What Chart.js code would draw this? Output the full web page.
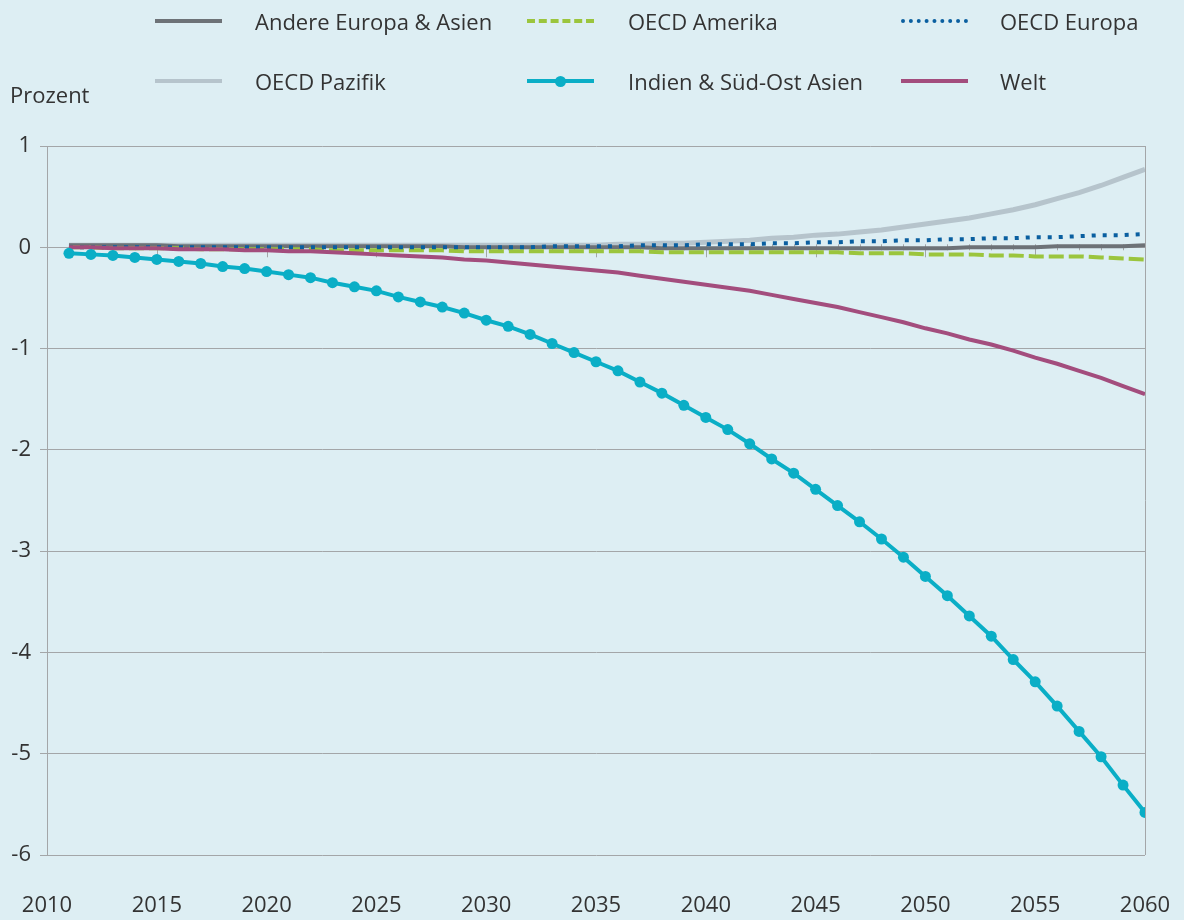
<!DOCTYPE html>
<html lang="de">
<head>
    <meta charset="UTF-8">
    <title>Prozent</title>
    <script src="https://cdn.jsdelivr.net/npm/chart.js"></script>
    <style>
        html, body { margin: 0; padding: 0; background: #ddeef3; }
        body { width: 1184px; height: 920px; position: relative; overflow: hidden;
               font-family: "Open Sans", "Noto Sans", sans-serif; color: #333; }
        #wrap { position: absolute; left: 0; top: 0; width: 1184px; height: 920px; }
        .lg { position: absolute; font-size: 22px; line-height: 24px; }
        .lg .mk { position: absolute; width: 67px; top: 10px; }
        .lg .tx { position: absolute; white-space: nowrap; }
        .dot { position: absolute; left: 28px; top: -7.5px; width: 11px; height: 11px; border-radius: 50%; background: #0aaec6; }
        #unit { position: absolute; left: 10px; top: 79px; font-size: 22px; }
    </style>
</head>
<body>
    <div id="wrap"><canvas id="chart" width="1184" height="920"></canvas></div>

    <!-- legend, 3 columns x 2 rows -->
    <div class="lg" style="left:155px; top:9px;">
        <div class="mk" style="border-top:4px solid #6d7277;"></div>
        <div class="tx" style="left:100px;">Andere Europa &amp; Asien</div>
    </div>
    <div class="lg" style="left:527px; top:9px;">
        <div class="mk" style="border-top:4px dashed #9bc53d;"></div>
        <div class="tx" style="left:101px;">OECD Amerika</div>
    </div>
    <div class="lg" style="left:901px; top:9px;">
        <div class="mk" style="border-top:4px dotted #0a5fa0;"></div>
        <div class="tx" style="left:99px;">OECD Europa</div>
    </div>
    <div class="lg" style="left:155px; top:69px;">
        <div class="mk" style="border-top:4px solid #b6c4cc;"></div>
        <div class="tx" style="left:100px;">OECD Pazifik</div>
    </div>
    <div class="lg" style="left:527px; top:69px;">
        <div class="mk" style="border-top:4px solid #0aaec6;"><div class="dot"></div></div>
        <div class="tx" style="left:101px;">Indien &amp; Süd-Ost Asien</div>
    </div>
    <div class="lg" style="left:901px; top:69px;">
        <div class="mk" style="border-top:4px solid #a34d7d;"></div>
        <div class="tx" style="left:99px;">Welt</div>
    </div>
    <div id="unit">Prozent</div>

    <script>
        // years 2011..2060
        const years = [];
        for (let y = 2011; y <= 2060; y++) years.push(y);

        const indien = [
            -0.06, -0.07, -0.08, -0.10, -0.12, -0.14, -0.16, -0.19, -0.21, -0.24,
            -0.27, -0.30, -0.35, -0.39, -0.43, -0.49, -0.54, -0.59, -0.65, -0.72,
            -0.78, -0.86, -0.95, -1.04, -1.13, -1.22, -1.33, -1.44, -1.56, -1.68,
            -1.80, -1.94, -2.09, -2.23, -2.39, -2.55, -2.71, -2.88, -3.06, -3.25,
            -3.44, -3.64, -3.84, -4.07, -4.29, -4.53, -4.78, -5.03, -5.31, -5.58
        ];
        const welt = [
            0.00, 0.00, -0.01, -0.01, -0.01, -0.02, -0.02, -0.02, -0.03, -0.03,
            -0.04, -0.04, -0.05, -0.06, -0.07, -0.08, -0.09, -0.10, -0.12, -0.13,
            -0.15, -0.17, -0.19, -0.21, -0.23, -0.25, -0.28, -0.31, -0.34, -0.37,
            -0.40, -0.43, -0.47, -0.51, -0.55, -0.59, -0.64, -0.69, -0.74, -0.80,
            -0.85, -0.91, -0.96, -1.02, -1.09, -1.15, -1.22, -1.29, -1.37, -1.45
        ];
        const europa = [
            0.00, 0.00, 0.00, 0.00, 0.00, 0.00, 0.00, 0.00, 0.00, 0.00,
            0.00, 0.00, 0.00, 0.00, 0.00, 0.00, 0.00, 0.00, 0.00, 0.00,
            0.00, 0.00, 0.01, 0.01, 0.01, 0.01, 0.02, 0.02, 0.02, 0.03,
            0.03, 0.03, 0.04, 0.04, 0.05, 0.05, 0.06, 0.06, 0.07, 0.07,
            0.08, 0.08, 0.09, 0.09, 0.10, 0.10, 0.11, 0.12, 0.12, 0.13
        ];
        const amerika = [
            0.00, 0.00, -0.01, -0.01, -0.01, -0.01, -0.02, -0.02, -0.02, -0.02,
            -0.02, -0.02, -0.03, -0.03, -0.03, -0.03, -0.03, -0.03, -0.04, -0.04,
            -0.04, -0.04, -0.04, -0.04, -0.04, -0.04, -0.04, -0.05, -0.05, -0.05,
            -0.05, -0.05, -0.05, -0.05, -0.05, -0.05, -0.06, -0.06, -0.06, -0.07,
            -0.07, -0.07, -0.08, -0.08, -0.09, -0.09, -0.09, -0.10, -0.11, -0.12
        ];
        const andere = [
            0.02, 0.02, 0.02, 0.02, 0.02, 0.01, 0.01, 0.01, 0.01, 0.01,
            0.01, 0.01, 0.01, 0.01, 0.01, 0.01, 0.01, 0.01, 0.00, 0.00,
            0.00, 0.00, 0.00, 0.00, 0.00, 0.00, 0.00, -0.01, -0.01, -0.01,
            -0.01, -0.01, -0.01, -0.01, -0.01, -0.01, -0.01, -0.01, -0.01, -0.01,
            -0.01, 0.00, 0.00, 0.00, 0.00, 0.01, 0.01, 0.01, 0.01, 0.02
        ];
        const pazifik = [
            0.02, 0.02, 0.02, 0.02, 0.02, 0.02, 0.02, 0.02, 0.02, 0.02,
            0.02, 0.02, 0.02, 0.02, 0.02, 0.02, 0.02, 0.02, 0.02, 0.02,
            0.02, 0.02, 0.02, 0.02, 0.02, 0.03, 0.03, 0.04, 0.04, 0.05,
            0.06, 0.07, 0.09, 0.10, 0.12, 0.13, 0.15, 0.17, 0.20, 0.23,
            0.26, 0.29, 0.33, 0.37, 0.42, 0.48, 0.54, 0.61, 0.69, 0.77
        ];

        const yTicks = [1, 0, -1, -2, -3, -4, -5, -6];
        const xTicks = [2010, 2015, 2020, 2025, 2030, 2035, 2040, 2045, 2050, 2055, 2060];

        const pts = arr => arr.map((v, i) => ({ x: years[i], y: v }));

        Chart.defaults.font.family = '"Open Sans", "Noto Sans", sans-serif';
        Chart.defaults.color = '#333';

        // small year ticks on the zero line
        const zeroTicks = {
            id: 'zeroTicks',
            beforeDatasetsDraw(chart) {
                const { ctx, scales: { x, y } } = chart;
                const y0 = y.getPixelForValue(0);
                ctx.save();
                ctx.strokeStyle = '#a3a6a8';
                ctx.lineWidth = 1;
                for (let yr = 2010; yr <= 2060; yr++) {
                    const px = Math.round(x.getPixelForValue(yr)) + 0.5;
                    const major = xTicks.includes(yr);
                    ctx.beginPath();
                    ctx.moveTo(px, y0 - 3);
                    ctx.lineTo(px, y0 + (major ? 10 : 3));
                    ctx.stroke();
                }
                ctx.restore();
            }
        };

        new Chart(document.getElementById('chart'), {
            type: 'line',
            data: {
                datasets: [
                    { label: 'Indien & Süd-Ost Asien', data: pts(indien), borderColor: '#0aaec6', backgroundColor: '#0aaec6',
                      borderWidth: 4, pointRadius: 5.5, pointHoverRadius: 5.5, pointBorderWidth: 0 },
                    { label: 'Welt', data: pts(welt), borderColor: '#a34d7d', borderWidth: 4, pointRadius: 0 },
                    { label: 'OECD Europa', data: pts(europa), borderColor: '#0a5fa0', borderWidth: 4,
                      borderDash: [4, 7], pointRadius: 0 },
                    { label: 'OECD Amerika', data: pts(amerika), borderColor: '#9bc53d', borderWidth: 4,
                      borderDash: [15, 5], pointRadius: 0 },
                    { label: 'Andere Europa & Asien', data: pts(andere), borderColor: '#6d7277', borderWidth: 4, pointRadius: 0 },
                    { label: 'OECD Pazifik', data: pts(pazifik), borderColor: '#b6c4cc', borderWidth: 5, pointRadius: 0 }
                ]
            },
            options: {
                responsive: false,
                animation: false,
                layout: { padding: { top: 146, right: 39, left: 0, bottom: 0 } },
                plugins: { legend: { display: false }, tooltip: { enabled: false } },
                scales: {
                    x: {
                        type: 'linear',
                        min: 2010, max: 2060,
                        afterBuildTicks: s => { s.ticks = xTicks.map(v => ({ value: v })); },
                        afterFit: s => { s.height = 65; s.paddingLeft = 0; s.paddingRight = 0; },
                        border: { display: false },
                        grid: {
                            drawTicks: false,
                            color: c => c.tick && c.tick.value === 2060 ? '#a3a6a8' : 'transparent'
                        },
                        ticks: { font: { size: 22 }, padding: 38, maxRotation: 0, callback: v => String(v) }
                    },
                    y: {
                        min: -6, max: 1,
                        afterBuildTicks: s => { s.ticks = yTicks.map(v => ({ value: v })); },
                        afterFit: s => { s.width = 47; s.paddingTop = 0; s.paddingBottom = 0; },
                        border: { display: true, color: '#a3a6a8', width: 1 },
                        grid: { color: '#a3a6a8', tickLength: 7, lineWidth: 1 },
                        ticks: { font: { size: 22 }, padding: 9, callback: v => String(v) }
                    }
                }
            },
            plugins: [zeroTicks]
        });
    </script>
</body>
</html>
